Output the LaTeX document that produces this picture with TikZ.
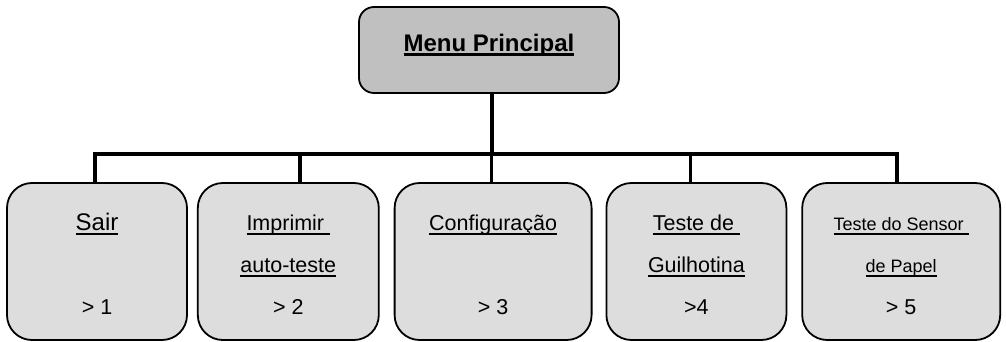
\documentclass[tikz,border=0pt]{standalone}
\usepackage{fontspec}
\setmainfont{Liberation Sans}
\usetikzlibrary{positioning}
\definecolor{menu_grey}{RGB}{192,192,192}
\definecolor{option_grey}{RGB}{221,221,221}

% underline at a fixed depth, trailing spaces included
\newcommand{\sublinhado}[2][1.6pt]{\setbox0=\hbox{#2}\rlap{\rule[-4.6pt]{\wd0}{#1}}\box0}
% one text line of the option boxes
\newcommand{\escora}{\rule[-10.5pt]{0pt}{42pt}}

\begin{document}
\begin{tikzpicture}[x=1pt, y=-1pt,
		opcao/.style={draw, rectangle, rounded corners=25pt, line width=1.8pt, fill=option_grey,
			minimum height=157pt, align=center, font=\fontsize{21.5}{42}\selectfont},
		conector/.style={line width=3.5pt}]
			\useasboundingbox (0,0) rectangle (1006,342);

			% --- Begin Menu Principal Node ---
			\node [draw, rectangle, rounded corners=15pt, line width=1.8pt, fill=menu_grey, minimum width=260pt,
				minimum height=86pt, text height=17.5pt, text depth=15pt,
				font=\fontsize{24}{28}\selectfont\bfseries] (MenuPrincipal) at (489,50) {\sublinhado[2.8pt]{Menu Principal}};
			% --- End Menu Principal Node ---

			% --- Begin Option Nodes ---
			\node [opcao, minimum width=180pt] (Sair) at (97,261.5) {
				\escora{\fontsize{24}{42}\selectfont\sublinhado{Sair}} \\
				\escora \\
				\escora> 1
			};
			\node [opcao, minimum width=181pt, right=9pt of Sair] (Imprimir) {
				\escora\sublinhado{Imprimir } \\
				\escora\sublinhado{auto-teste} \\
				\escora> 2
			};
			\node [opcao, minimum width=197pt, right=14pt of Imprimir] (Configuracao) {
				\escora\sublinhado{Configuração} \\
				\escora \\
				\escora> 3
			};
			\node [opcao, minimum width=180pt, right=13pt of Configuracao] (Guilhotina) {
				\escora\sublinhado{Teste de } \\
				\escora\sublinhado{Guilhotina} \\
				\escora>4
			};
			\node [opcao, minimum width=198pt, right=14pt of Guilhotina] (Sensor) {
				\escora{\fontsize{18}{42}\selectfont\sublinhado{Teste do Sensor }} \\
				\escora{\fontsize{18}{42}\selectfont\sublinhado{de Papel}} \\
				\escora> 5
			};
			% --- End Option Nodes ---

			% Tree connectors from the menu down to every option.
			\coordinate (Barra) at (0,154);
			\draw [conector] ([xshift=3pt]MenuPrincipal.south) -- ([xshift=3pt]MenuPrincipal.south |- Barra);
			\foreach \opt/\dx in {Sair/-2, Imprimir/11.5, Configuracao/-1.5, Guilhotina/-6, Sensor/-4}
				\draw [conector] ([xshift=3pt]MenuPrincipal.south |- Barra) -| ([xshift=\dx pt]\opt.north);
		\end{tikzpicture}
\end{document}
